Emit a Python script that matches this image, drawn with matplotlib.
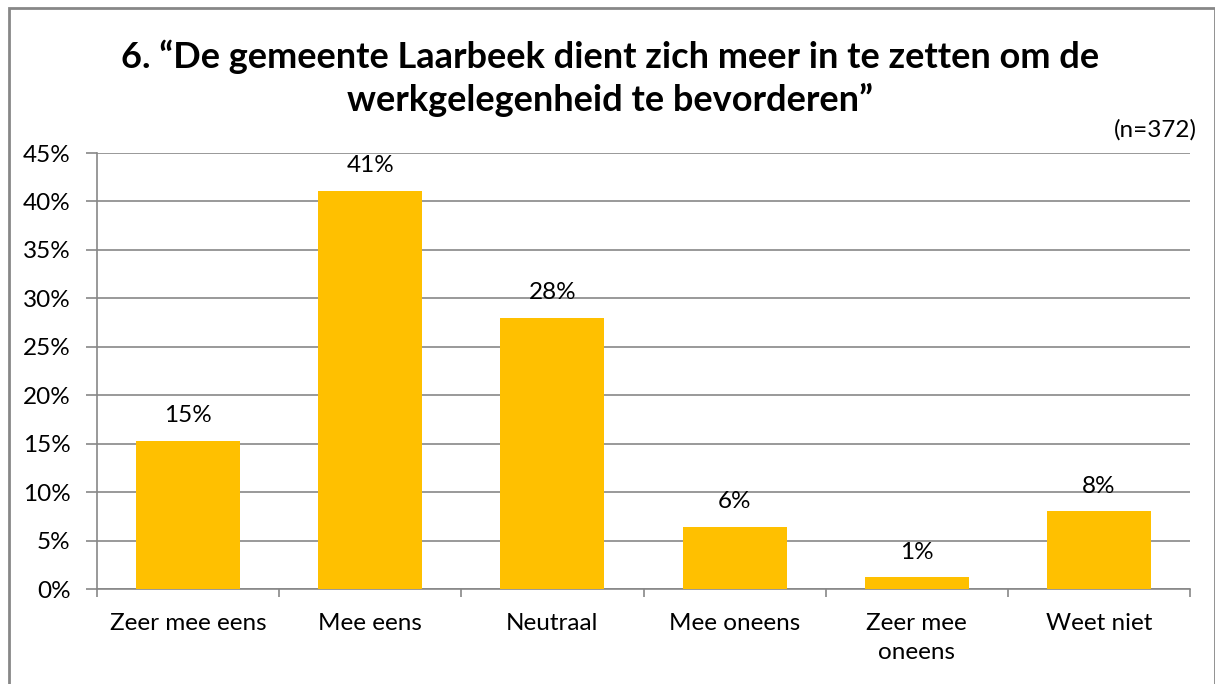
import matplotlib.pyplot as plt
from matplotlib.patches import Rectangle
from matplotlib.ticker import FuncFormatter

plt.rcParams['font.family'] = ['Lato', 'DejaVu Sans']

categories = ['Zeer mee eens', 'Mee eens', 'Neutraal', 'Mee oneens', 'Zeer mee\noneens', 'Weet niet']
values = [15.3, 41.1, 28.0, 6.4, 1.2, 8.0]
labels = ['15%', '41%', '28%', '6%', '1%', '8%']
title = '6. \u201cDe gemeente Laarbeek dient zich meer in te zetten om de\nwerkgelegenheid te bevorderen\u201d'

fs = 17.5
fig = plt.figure(figsize=(12.15, 6.84), dpi=100)
ax = fig.add_axes([97/1215, 1 - 589/684, (1190-97)/1215, (589-153)/684])

grey = '#878787'
x = range(len(categories))
ax.bar(x, values, width=0.57, color='#FFC000', zorder=3)
for i, v in enumerate(values):
    ax.text(i, v + 1.5, labels[i], ha='center', va='bottom', fontsize=fs)

ax.set_xlim(-0.5, len(categories) - 0.5)
ax.set_ylim(0, 45)
ax.set_yticks(range(0, 46, 5))
ax.yaxis.set_major_formatter(FuncFormatter(lambda v, p: '%d%%' % v))
ax.yaxis.grid(True, color=grey, linewidth=1.2, zorder=0)
ax.set_xticks([i - 0.5 for i in range(len(categories) + 1)], minor=False)
ax.set_xticklabels([])
ax.set_xticks(list(x), minor=True)
ax.set_xticklabels(categories, minor=True, fontsize=fs, linespacing=1.5)
ax.tick_params(axis='x', which='minor', length=0, pad=17)
ax.tick_params(axis='x', which='major', length=6, color=grey, width=1.2)
ax.tick_params(axis='y', length=8, color=grey, width=1.2, labelsize=fs, pad=11)
for s in ['top', 'right']:
    ax.spines[s].set_visible(False)
ax.spines['left'].set_color(grey)
ax.spines['bottom'].set_color(grey)
ax.spines['left'].set_linewidth(1.2)
ax.spines['bottom'].set_linewidth(1.2)

fig.text(0.502, 1 - 78/684, title, ha='center', va='center', fontsize=26,
         fontweight='bold', linespacing=1.3)
fig.text(1197/1215, 1 - 130/684, '(n=372)', ha='right', va='center', fontsize=fs)

fig.patches.append(Rectangle((8.5/1215, -0.1), (1214.5-8.5)/1215, 1.1 - 8.5/684,
                             transform=fig.transFigure, fill=False,
                             edgecolor=grey, linewidth=2))

plt.savefig('out.png', dpi=100)
